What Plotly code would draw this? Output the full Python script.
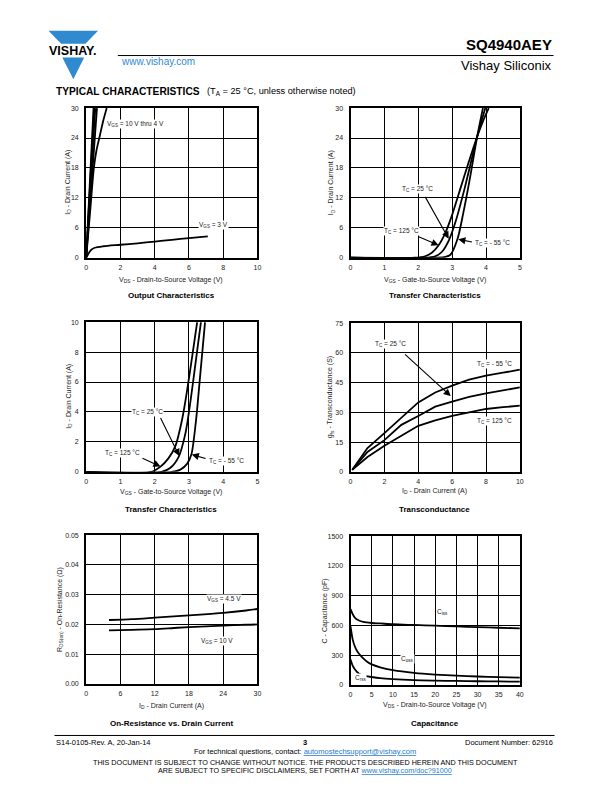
import plotly.graph_objects as go

W, H = 612, 792
FONT = "Liberation Sans"
BLUE = "#2f8ad0"

# ---------------- data ----------------
# Output characteristics (VDS V, ID A)
out_vds_10 = [0, 0.43]; out_id_10 = [0, 30]
out_vds_8 = [0, 0.47]; out_id_8 = [0, 30]
out_vds_6 = [0, 0.53]; out_id_6 = [0, 30]
out_vds_5 = [0, 0.63]; out_id_5 = [0, 30]
out_vds_4 = [0, 0.25, 0.45, 0.6, 0.8, 1.0, 1.2]
out_id_4 = [0, 10, 18, 21.5, 24.5, 27.5, 30]
out_vds_3 = [0, 0.1, 0.2, 0.3, 0.5, 1, 2, 3, 4, 5, 6, 7.1]
out_id_3 = [0, 0.6, 1.2, 1.6, 2.0, 2.3, 2.6, 2.9, 3.25, 3.6, 3.95, 4.3]

# Transfer characteristics 0-30 A (VGS V, ID A)
tr_vgs_125 = [0, 1.9, 2.2, 2.4, 2.59, 2.8, 3.0, 3.25, 3.5, 3.74, 3.9, 4.08]
tr_id_125 = [0, 0, 0.3, 1.0, 2.4, 5.0, 8.6, 14.0, 19.4, 24.3, 27.2, 30]
tr_vgs_25 = [0, 2.2, 2.5, 2.7, 2.91, 3.1, 3.38, 3.55, 3.74, 3.98]
tr_id_25 = [0, 0, 0.3, 1.2, 3.6, 7.2, 14.2, 19.0, 24.3, 30]
tr_vgs_m55 = [0, 2.5, 2.8, 2.95, 3.16, 3.33, 3.5, 3.74, 3.91]
tr_id_m55 = [0, 0, 0.15, 0.6, 3.8, 9.0, 15.0, 24.3, 30]

# Transfer characteristics 0-10 A
trl_vgs_125 = [0, 1.9, 2.17, 2.4, 2.6, 2.8, 2.95, 3.1, 3.24]
trl_id_125 = [0, 0, 0.35, 0.9, 1.7, 3.5, 5.5, 7.8, 10]
trl_vgs_25 = [0, 2.2, 2.45, 2.7, 2.9, 3.05, 3.2, 3.35]
trl_id_25 = [0, 0, 0.25, 1.0, 2.6, 4.8, 7.4, 10]
trl_vgs_m55 = [0, 2.5, 2.75, 2.95, 3.07, 3.2, 3.33, 3.47]
trl_id_m55 = [0, 0, 0.15, 0.55, 1.15, 3.3, 6.5, 10]

# Transconductance (ID A, gfs S)
gfs_id = [0.1, 1, 2, 3, 4, 5, 6, 7, 8, 9, 10]
gfs_m55 = [1, 12, 19.5, 27.5, 35, 40, 43.5, 46.5, 48.5, 50, 51.5]
gfs_25 = [1, 10, 16, 23.7, 28.2, 32.9, 35.4, 37.8, 39.6, 41.2, 42.6]
gfs_125 = [1, 7.5, 13.2, 18.3, 23.2, 26, 28.2, 30, 31.7, 32.6, 33.4]

# On-resistance (ID A, RDS ohm)
ron_id = [4, 8, 12, 16, 20, 24, 28, 30]
ron_45 = [0.0215, 0.0218, 0.0223, 0.0228, 0.0233, 0.0239, 0.0247, 0.0252]
ron_10 = [0.0180, 0.0182, 0.0184, 0.0189, 0.0193, 0.0196, 0.0199, 0.0200]

# Capacitance (VDS V, pF)
ciss_v = [0, 0.5, 1, 2, 3, 5, 7, 10, 15, 20, 25, 30, 35, 40]
ciss = [765, 715, 680, 650, 636, 625, 620, 612, 605, 598, 590, 583, 577, 571]
coss_v = [0, 0.5, 1, 1.5, 2, 3, 4, 5, 7, 10, 15, 20, 25, 30, 35, 40]
coss = [590, 460, 390, 345, 314, 268, 232, 207, 178, 150, 122, 105, 93, 85, 79, 73]
crss_v = [0, 0.5, 1, 2, 3, 5, 7, 10, 15, 20, 25, 30, 35, 40]
crss = [257, 195, 158, 112, 95, 80, 68, 58, 48, 43, 40, 37, 35, 33]

# ---------------- layout helpers ----------------
def fx(px):
    return px / W

def fy(py):
    return 1 - py / H

panels = [(85, 258, 105, 256), (352, 523, 105, 256), (85, 258, 321, 472),
          (352, 523, 322, 472), (85, 258, 536, 686), (352, 523, 537, 687)]
xranges = [([0, 10], 2), ([0, 5], 1), ([0, 5], 1), ([0, 10], 2), ([0, 30], 6), ([0, 40], 5)]
yranges = [([0, 30], 6), ([0, 30], 6), ([0, 10], 2), ([0, 75], 15), ([0, 0.05], 0.01), ([0, 1500], 300)]

fig = go.Figure()
layout = dict(width=W, height=H, margin=dict(l=0, r=0, t=0, b=0),
              paper_bgcolor="white", plot_bgcolor="white", showlegend=False,
              font=dict(family=FONT, color="#222"))

for i, (l, r, t, b) in enumerate(panels):
    n = "" if i == 0 else str(i + 1)
    common = dict(showgrid=True, gridcolor="black", gridwidth=1, showline=True,
                  linecolor="black", linewidth=2, mirror=True, ticks="",
                  zeroline=False, fixedrange=True,
                  tickfont=dict(family=FONT, size=7, color="#222"))
    layout["xaxis" + n] = dict(domain=[fx(l), fx(r)], range=xranges[i][0],
                               dtick=xranges[i][1], tick0=0, anchor="y" + n,
                               ticklabelstandoff=2, **common)
    yd = dict(domain=[fy(b), fy(t)], range=yranges[i][0], dtick=yranges[i][1],
              tick0=0, anchor="x" + n, ticklabelstandoff=4, **common)
    if i == 4:
        yd["tickformat"] = ".2f"
    layout["yaxis" + n] = yd

fig.update_layout(**layout)

def add_line(x, y, k, shape="linear"):
    n = "" if k == 1 else str(k)
    fig.add_trace(go.Scatter(x=x, y=y, mode="lines", xaxis="x" + n, yaxis="y" + n,
                             line=dict(color="black", width=1.8, shape=shape, smoothing=0.8),
                             hoverinfo="skip"))

# panel 1
for xs, ys in [(out_vds_10, out_id_10), (out_vds_8, out_id_8), (out_vds_6, out_id_6),
               (out_vds_5, out_id_5), (out_vds_4, out_id_4), (out_vds_3, out_id_3)]:
    add_line(xs, ys, 1, "spline")
# panel 2
for xs, ys in [(tr_vgs_125, tr_id_125), (tr_vgs_25, tr_id_25), (tr_vgs_m55, tr_id_m55)]:
    add_line(xs, ys, 2, "spline")
# panel 3
for xs, ys in [(trl_vgs_125, trl_id_125), (trl_vgs_25, trl_id_25), (trl_vgs_m55, trl_id_m55)]:
    add_line(xs, ys, 3, "spline")
# panel 4
for ys in [gfs_m55, gfs_25, gfs_125]:
    add_line(gfs_id, ys, 4, "linear")
# panel 5
for ys in [ron_45, ron_10]:
    add_line(ron_id, ys, 5, "spline")
# panel 6
for xs, ys in [(ciss_v, ciss), (coss_v, coss), (crss_v, crss)]:
    add_line(xs, ys, 6, "spline")

ann = []

def label(k, x, y, text, xanchor="left", bg="white", size=6.5):
    n = "" if k == 1 else str(k)
    ann.append(dict(xref="x" + n, yref="y" + n, x=x, y=y, text=text, showarrow=False,
                    xanchor=xanchor, yanchor="middle", bgcolor=bg, borderpad=0,
                    font=dict(family=FONT, size=size, color="#222")))

def arrow(k, x0, y0, x1, y1):
    n = "" if k == 1 else str(k)
    ann.append(dict(xref="x" + n, yref="y" + n, axref="x" + n, ayref="y" + n,
                    x=x1, y=y1, ax=x0, ay=y0, text="", showarrow=True,
                    arrowhead=2, arrowsize=1.3, arrowwidth=1.1, arrowcolor="black"))

# panel labels
label(1, 1.15, 26.8, "V<sub>GS</sub> = 10 V thru 4 V")
label(1, 6.5, 6.6, "V<sub>GS</sub> = 3 V")

label(2, 1.99, 13.7, "T<sub>C</sub> = 25 °C", "center")
arrow(2, 2.18, 12.5, 2.9, 3.8)
label(2, 1.5, 5.3, "T<sub>C</sub> = 125 °C", "center")
arrow(2, 1.95, 4.4, 2.6, 2.5)
label(2, 3.65, 3.0, "T<sub>C</sub> = - 55 °C", "left")
arrow(2, 3.63, 3.1, 3.18, 3.7)

label(3, 1.78, 4.0, "T<sub>C</sub> = 25 °C", "center")
arrow(3, 2.15, 3.7, 2.72, 1.05)
label(3, 1.07, 1.25, "T<sub>C</sub> = 125 °C", "center")
arrow(3, 1.6, 0.95, 2.17, 0.35)
label(3, 3.55, 0.75, "T<sub>C</sub> = - 55 °C", "left")
arrow(3, 3.53, 0.86, 3.08, 1.15)

label(4, 1.4, 64.6, "T<sub>C</sub> = 25 °C")
arrow(4, 3.13, 59.9, 5.92, 38.2)
label(4, 7.4, 54.6, "T<sub>C</sub> = - 55 °C")
label(4, 7.4, 25.4, "T<sub>C</sub> = 125 °C")

label(5, 20.9, 0.0284, "V<sub>GS</sub> = 4.5 V")
label(5, 20.0, 0.0145, "V<sub>GS</sub> = 10 V")

label(6, 20.1, 732, "C<sub>iss</sub>")
label(6, 11.6, 257, "C<sub>oss</sub>")
label(6, 0.8, 70, "C<sub>rss</sub>")

def ptext(px, py, text, size=7, xanchor="center", bold=False, color="#222", angle=0, yanchor="middle"):
    if bold:
        text = "<b>" + text + "</b>"
    ann.append(dict(xref="paper", yref="paper", x=fx(px), y=fy(py), text=text,
                    showarrow=False, xanchor=xanchor, yanchor=yanchor, textangle=angle,
                    font=dict(family=FONT, size=size, color=color)))

# axis titles
ptext(171, 278, "V<sub>DS</sub> - Drain-to-Source Voltage (V)")
ptext(437, 278, "V<sub>GS</sub> - Gate-to-Source Voltage (V)")
ptext(171, 492, "V<sub>GS</sub> - Gate-to-Source Voltage (V)")
ptext(437, 491, "I<sub>D</sub> - Drain Current (A)")
ptext(171, 708, "I<sub>D</sub> - Drain Current (A)")
ptext(437, 707, "V<sub>DS</sub> - Drain-to-Source Voltage (V)")

ptext(67, 180, "I<sub>D</sub> - Drain Current (A)", angle=-90)
ptext(333, 180, "I<sub>D</sub> - Drain Current (A)", angle=-90)
ptext(67, 396, "I<sub>D</sub> - Drain Current (A)", angle=-90)
ptext(332, 397, "g<sub>fs</sub> - Transconductance (S)", angle=-90)
ptext(58, 611, "R<sub>DS(on)</sub> - On-Resistance (Ω)", angle=-90)
ptext(326, 612, "C - Capacitance (pF)", angle=-90)

# chart titles
ptext(171, 294, "Output Characteristics", size=8, bold=True, color="black")
ptext(437, 294, "Transfer Characteristics", size=8, bold=True, color="black")
ptext(171, 510, "Transfer Characteristics", size=8, bold=True, color="black")
ptext(437, 510, "Transconductance", size=8, bold=True, color="black")
ptext(171, 726, "On-Resistance vs. Drain Current", size=8, bold=True, color="black")
ptext(437, 726, "Capacitance", size=8, bold=True, color="black")

# header
ptext(557, 41, "SQ4940AEY", size=15, xanchor="right", bold=True, color="black")
ptext(557, 62, "Vishay Siliconix", size=13, xanchor="right", color="black")
ptext(118, 58, "www.vishay.com", size=10, xanchor="left", color=BLUE)
ptext(71, 47, "VISHAY.", size=12.5, xanchor="center", bold=True, color="black")
ptext(53, 88, "TYPICAL CHARACTERISTICS", size=10.2, xanchor="left", bold=True, color="black")
ptext(205, 88, "(T<sub>A</sub> = 25 °C, unless otherwise noted)", size=9.2, xanchor="left", color="black")

# footer
ptext(53, 745, "S14-0105-Rev. A, 20-Jan-14", size=7.5, xanchor="left", color="black")
ptext(306, 745, "3", size=7.5, bold=True, color="black")
ptext(558, 745, "Document Number: 62916", size=7.5, xanchor="right", color="black")
ptext(306, 754, "For technical questions, contact: <span style='color:#1e7cc8'><u>automostechsupport@vishay.com</u></span>",
      size=7.5, color="black")
ptext(306, 765, "THIS DOCUMENT IS SUBJECT TO CHANGE WITHOUT NOTICE. THE PRODUCTS DESCRIBED HEREIN AND THIS DOCUMENT",
      size=7.2, color="black")
ptext(306, 773, "ARE SUBJECT TO SPECIFIC DISCLAIMERS, SET FORTH AT <span style='color:#1e7cc8'><u>www.vishay.com/doc?91000</u></span>",
      size=7.2, color="black")

fig.update_layout(annotations=ann)

# shapes: header rule, footer rule, logo
shapes = [
    dict(type="line", xref="paper", yref="paper", x0=fx(117), x1=fx(557), y0=fy(52), y1=fy(52),
         line=dict(color="black", width=1)),
    dict(type="line", xref="paper", yref="paper", x0=fx(53), x1=fx(558), y0=fy(738), y1=fy(738),
         line=dict(color="black", width=1)),
    # upper band of logo triangle
    dict(type="path", xref="paper", yref="paper",
         path=f"M {fx(47)},{fy(27)} L {fx(97)},{fy(27)} L {fx(84.3)},{fy(40)} L {fx(59.7)},{fy(40)} Z",
         fillcolor=BLUE, line=dict(width=0)),
    # lower triangle of logo
    dict(type="path", xref="paper", yref="paper",
         path=f"M {fx(61)},{fy(54)} L {fx(83)},{fy(54)} L {fx(72)},{fy(76)} Z",
         fillcolor=BLUE, line=dict(width=0)),
]
fig.update_layout(shapes=shapes)

fig.write_html("out.html", config={"displayModeBar": False},
               post_script="document.body.style.margin='0';document.body.style.overflow='hidden';")
